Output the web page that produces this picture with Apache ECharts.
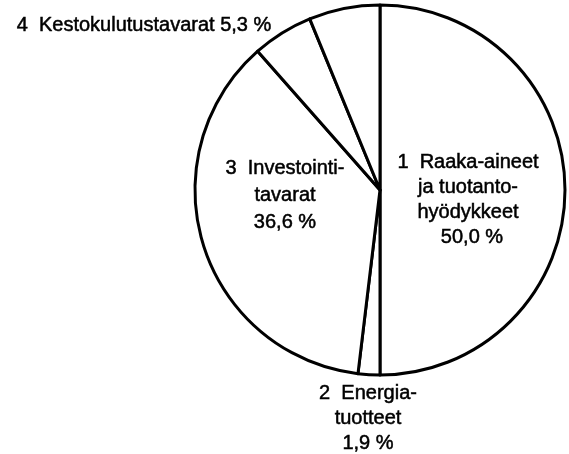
<!DOCTYPE html>
<html>
<head>
<meta charset="utf-8">
<script src="https://cdn.jsdelivr.net/npm/echarts@6/dist/echarts.min.js"></script>
<style>
  html, body { margin: 0; padding: 0; background: #fff; }
  #chart { width: 569px; height: 454px; }
</style>
</head>
<body>
<div id="chart"></div>
<script>
// tuontiryhmät, osuus %
var names = [
  '1  Raaka-aineet\nja tuotanto-\nhyödykkeet',
  '2  Energia-\ntuotteet',
  '3  Investointi-\ntavarat',
  '4  Kestokulutustavarat',
  'Muut'
];
var values = [50.0, 1.9, 36.6, 5.3, 6.2];

// label placement (text block centres)
var labelPos = [[468, 200], [368, 418], [285, 195], [144, 25], null];

var chart = echarts.init(document.getElementById('chart'));

function fmt(v) {
  return v.toFixed(1).replace('.', ',') + ' %';
}

var pieData = names.map(function (n, i) {
  var item = { name: n, value: values[i] };
  if (i === 4) item.label = { show: false };
  if (i === 2) item.label = { lineHeight: 27 };
  return item;
});

chart.setOption({
  animation: false,
  series: [{
    type: 'pie',
    center: [380, 190],
    radius: 185,
    startAngle: 90,
    clockwise: true,
    silent: true,
    data: pieData,
    itemStyle: {
      color: '#fff',
      borderColor: '#000',
      borderWidth: 3
    },
    emphasis: { disabled: true },
    labelLine: { show: false },
    label: {
      show: true,
      position: 'inside',
      color: '#000',
      fontFamily: 'Liberation Sans, Arial, sans-serif',
      fontSize: 20,
      lineHeight: 25,
      align: 'center',
      textBorderColor: '#000',
      textBorderWidth: 0.5,
      formatter: function (p) {
        if (p.dataIndex === 3) return p.name + ' ' + fmt(p.value);
        if (p.dataIndex === 0) return p.name + '\n{p|' + fmt(p.value) + '}';
        return p.name + '\n' + fmt(p.value);
      },
      rich: {
        p: {
          color: '#000',
          fontFamily: 'Liberation Sans, Arial, sans-serif',
          fontSize: 20,
          lineHeight: 25,
          textBorderColor: '#000',
          textBorderWidth: 0.5,
          padding: [0, 0, 0, 8]
        }
      }
    },
    labelLayout: function (params) {
      var pos = labelPos[params.dataIndex];
      if (!pos) return {};
      return { x: pos[0], y: pos[1], align: 'center', verticalAlign: 'middle' };
    }
  }]
});
</script>
</body>
</html>
